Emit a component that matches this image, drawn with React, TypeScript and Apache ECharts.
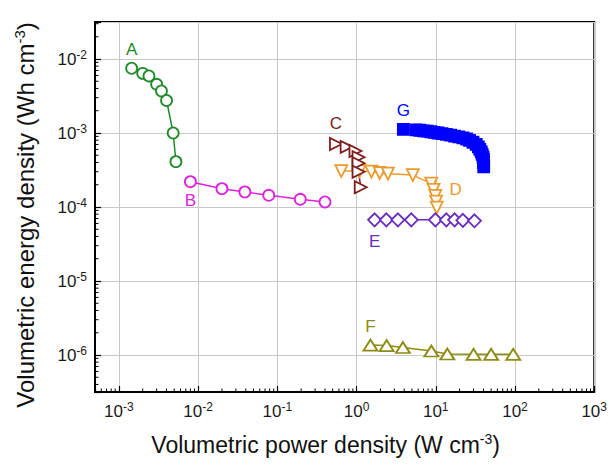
import React, { useEffect, useRef } from 'react';
import * as echarts from 'echarts';

// ---- data (W cm^-3, Wh cm^-3) ----
const aPower = [1.45e-3, 2.0e-3, 2.4e-3, 3.0e-3, 3.45e-3, 4.0e-3, 4.85e-3, 5.25e-3];
const aEnergy = [7.5e-3, 6.4e-3, 5.9e-3, 4.55e-3, 3.7e-3, 2.75e-3, 1.0e-3, 4.1e-4];

const bPower = [0.008, 0.02, 0.039, 0.078, 0.195, 0.4];
const bEnergy = [2.2e-4, 1.77e-4, 1.6e-4, 1.44e-4, 1.27e-4, 1.17e-4];

const cPower = [0.55, 0.75, 0.97, 1.06, 1.06, 1.06, 1.13];
const cEnergy = [7.1e-4, 6.5e-4, 5.7e-4, 4.7e-4, 3.9e-4, 3.0e-4, 1.85e-4];

const dPower = [0.643, 1.09, 1.54, 1.96, 2.49, 5.14, 8.77, 9.38, 9.86, 10.1, 10.3];
const dEnergy = [3.06e-4, 3.06e-4, 3.0e-4, 2.88e-4, 2.82e-4, 2.7e-4, 2.07e-4, 1.7e-4, 1.41e-4, 1.18e-4, 9.8e-5];

const ePower = [1.69, 2.38, 3.33, 4.91, 9.9, 13.6, 17.3, 22.0, 30.8];
const eEnergy = [6.7e-5, 6.7e-5, 6.7e-5, 6.7e-5, 6.7e-5, 6.7e-5, 6.7e-5, 6.6e-5, 6.5e-5];

const fPower = [1.5, 2.4, 3.85, 8.8, 14, 30, 50, 95];
const fEnergy = [1.36e-6, 1.34e-6, 1.26e-6, 1.13e-6, 1.03e-6, 1.02e-6, 1.02e-6, 1.02e-6];

const gPower = [3.9, 5.6, 6.3, 7.0, 7.8, 8.7, 9.6, 10.7, 12, 13.6, 15.4, 17.3, 19.5, 22, 24.5, 26.7, 29.5, 32.4, 34.5, 36, 37.5, 38.5, 39.5, 40, 40.2, 40.3];
const gEnergy = [1.12e-3, 1.1e-3, 1.09e-3, 1.07e-3, 1.06e-3, 1.04e-3, 1.02e-3, 1.0e-3, 9.8e-4, 9.6e-4, 9.35e-4, 9.1e-4, 8.85e-4, 8.6e-4, 8.3e-4, 7.96e-4, 7.5e-4, 7.0e-4, 6.5e-4, 6.0e-4, 5.55e-4, 5.15e-4, 4.75e-4, 4.4e-4, 3.95e-4, 3.5e-4];

const X_MIN = 5e-4;
const X_MAX = 1e3;
const Y_MIN = Math.pow(10, -6.5);
const Y_MAX = Math.pow(10, -1.5);

const FONT = 'Liberation Sans, Arial, sans-serif';

function minorTicks(lo: number, hi: number): number[] {
  const out: number[] = [];
  for (let k = Math.floor(Math.log10(lo)) - 1; k <= Math.ceil(Math.log10(hi)); k++) {
    for (let m = 2; m <= 9; m++) {
      const v = m * Math.pow(10, k);
      if (v > lo * 1.0001 && v < hi * 0.9999) out.push(v);
    }
  }
  return out;
}

function powLabel(v: number): string {
  const e = Math.log10(v);
  const r = Math.round(e);
  if (Math.abs(e - r) > 1e-6) return '';
  return '{b|10}{s|' + r + '}';
}

const richTick = {
  b: { fontSize: 17, fontFamily: FONT, color: '#1a1a1a' },
  s: { fontSize: 12, fontFamily: FONT, color: '#1a1a1a', padding: [0, 0, 9, 0] },
};

const richNameX = {
  n: { fontSize: 23, fontFamily: FONT, color: '#111' },
  s: { fontSize: 14, fontFamily: FONT, color: '#111', padding: [0, 0, 12, 0] },
};
const richNameY = {
  n: { fontSize: 24, fontFamily: FONT, color: '#111' },
  s: { fontSize: 15, fontFamily: FONT, color: '#111', padding: [0, 0, 12, 0] },
};

function mkSeries(
  name: string,
  xs: number[],
  ys: number[],
  color: string,
  symbol: string,
  size: number | number[],
  rotate: number,
  filled: boolean,
  labelIdx: number,
  labelPos: string,
  labelDist: number
) {
  return {
    name,
    type: 'line',
    data: xs.map((x, i) => {
      const item: any = { value: [x, ys[i]] };
      if (i === labelIdx) {
        item.label = {
          show: true,
          formatter: name,
          position: labelPos,
          distance: labelDist,
          color,
          fontSize: 17,
          fontFamily: FONT,
        };
      }
      return item;
    }),
    symbol,
    symbolSize: size,
    symbolRotate: rotate,
    showSymbol: true,
    lineStyle: { color, width: 1.5 },
    itemStyle: { color: filled ? color : '#ffffff', borderColor: color, borderWidth: 1.8 },
    label: { show: false },
    z: 3,
  };
}

export default function App() {
  const ref = useRef<HTMLDivElement>(null);
  useEffect(() => {
    if (!ref.current) return;
    const chart = echarts.init(ref.current, undefined, { renderer: 'svg' });
    const xMinor = minorTicks(X_MIN, X_MAX);
    const yMinor = minorTicks(Y_MIN, Y_MAX);
    chart.setOption({
      animation: false,
      backgroundColor: '#ffffff',
      grid: {
        left: 95,
        right: 15,
        top: 22,
        bottom: 78,
        show: true,
        borderColor: '#000',
        borderWidth: 2,
        backgroundColor: 'transparent',
      },
      xAxis: {
        type: 'log',
        logBase: 10,
        min: X_MIN,
        max: X_MAX,
        name: '{n|Volumetric power density (W cm}{s|-3}{n|)}',
        nameLocation: 'middle',
        nameGap: 40,
        nameTextStyle: { rich: richNameX, fontSize: 23, fontFamily: FONT, padding: [0, 38, 0, 0] },
        axisLine: { show: true, lineStyle: { color: '#000', width: 2 } },
        axisTick: { show: true, inside: true, length: 6, lineStyle: { color: '#000', width: 1.2 } },
        axisLabel: { formatter: powLabel, rich: richTick, margin: 9, showMinLabel: true, showMaxLabel: true },
        splitLine: { show: true, lineStyle: { color: '#c8c8c8', width: 1 } },
        minorTick: { show: false },
      },
      yAxis: {
        type: 'log',
        logBase: 10,
        min: Y_MIN,
        max: Y_MAX,
        name: '{n|Volumetric energy density (Wh cm}{s|-3}{n|)}',
        nameLocation: 'middle',
        nameGap: 56,
        nameTextStyle: { rich: richNameY, fontSize: 24, fontFamily: FONT, padding: [0, 16, 0, 0] },
        axisLine: { show: true, lineStyle: { color: '#000', width: 2 } },
        axisTick: { show: true, inside: true, length: 6, lineStyle: { color: '#000', width: 1.2 } },
        axisLabel: { formatter: powLabel, rich: richTick, margin: 8 },
        splitLine: { show: true, lineStyle: { color: '#c8c8c8', width: 1 } },
      },
      series: [
        mkSeries('A', aPower, aEnergy, '#1f8a2a', 'circle', 11, 0, false, 0, 'top', 4),
        mkSeries('B', bPower, bEnergy, '#dd22dd', 'circle', 11, 0, false, 0, 'bottom', 4),
        mkSeries('D', dPower, dEnergy, '#eb9b2e', 'triangle', 12, 180, false, 7, 'right', 9),
        mkSeries('C', cPower, cEnergy, '#7f1d1d', 'triangle', 12, -90, false, 0, 'top', 5),
        mkSeries('E', ePower, eEnergy, '#6a2bc2', 'diamond', 13, 0, false, 0, 'bottom', 6),
        mkSeries('F', fPower, fEnergy, '#8c8c12', 'triangle', [14, 11], 0, false, 0, 'top', 4),
        mkSeries('G', gPower, gEnergy, '#0000ff', 'rect', 11, 0, true, 0, 'top', 4),
        {
          type: 'custom',
          silent: true,
          z: 6,
          data: xMinor.map((v) => [v, Y_MIN]),
          renderItem: (_p: any, api: any) => {
            const p = api.coord([api.value(0), Y_MIN]);
            return {
              type: 'line',
              shape: { x1: p[0], y1: p[1], x2: p[0], y2: p[1] - 3.5 },
              style: { stroke: '#000', lineWidth: 1 },
            };
          },
        },
        {
          type: 'custom',
          silent: true,
          z: 6,
          data: yMinor.map((v) => [X_MIN, v]),
          renderItem: (_p: any, api: any) => {
            const p = api.coord([X_MIN, api.value(1)]);
            return {
              type: 'line',
              shape: { x1: p[0], y1: p[1], x2: p[0] + 3.5, y2: p[1] },
              style: { stroke: '#000', lineWidth: 1 },
            };
          },
        },
      ],
    });
    return () => chart.dispose();
  }, []);
  return (
    <div
      ref={ref}
      style={{ position: 'fixed', left: 0, top: 0, width: 610, height: 470, background: '#fff' }}
    />
  );
}
